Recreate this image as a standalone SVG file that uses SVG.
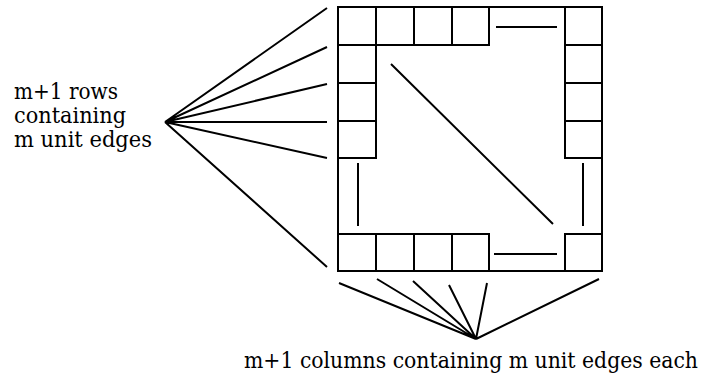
<svg xmlns="http://www.w3.org/2000/svg" width="707" height="382" viewBox="0 0 707 382">
<style>
.ln{stroke:#000;stroke-width:2;fill:none;stroke-linecap:butt}
.cell{stroke:#000;stroke-width:2;fill:none}
text{font-size:22px;fill:#000}
</style>
<rect width="707" height="382" fill="#fff"/>
<g id="grid">
<rect class="cell" x="338" y="7" width="264" height="264"/>
<path class="ln" d="M338 45H489V7M376 7V45M414 7V45M452 7V45"/>
<path class="ln" d="M376 45V158H338M338 83H376M338 121H376"/>
<path class="ln" d="M565 7V158H602M565 45H602M565 83H602M565 121H602"/>
<path class="ln" d="M338 234H489V271M376 234V271M414 234V271M452 234V271M565 271V234H602"/>
<path class="ln" d="M496 27H557M494 254H557M358 163V226M583 163V226M391 64L553 224"/>
</g>
<g id="connectors">
<path class="ln" d="M165 122L327 8M165 122L327 47M165 122L327 84M165 122L327 122M165 122L327 158M165 122L327 267"/>
<path class="ln" d="M476 339L339 283M476 339L377 279M476 339L413 281M476 339L449 285M476 339L487 283M476 339L599 279"/>
</g>
<g id="label-rows" font-family="'DejaVu Serif', serif">
<text x="14" y="99" textLength="104" lengthAdjust="spacingAndGlyphs">m+1 rows</text>
<text x="14" y="123" textLength="112" lengthAdjust="spacingAndGlyphs">containing</text>
<text x="14" y="147" textLength="138" lengthAdjust="spacingAndGlyphs">m unit edges</text>
</g>
<g id="label-columns" font-family="'DejaVu Serif', serif">
<text x="244" y="368" font-size="19" textLength="454" lengthAdjust="spacingAndGlyphs">m+1 columns containing m unit edges each</text>
</g>
</svg>
